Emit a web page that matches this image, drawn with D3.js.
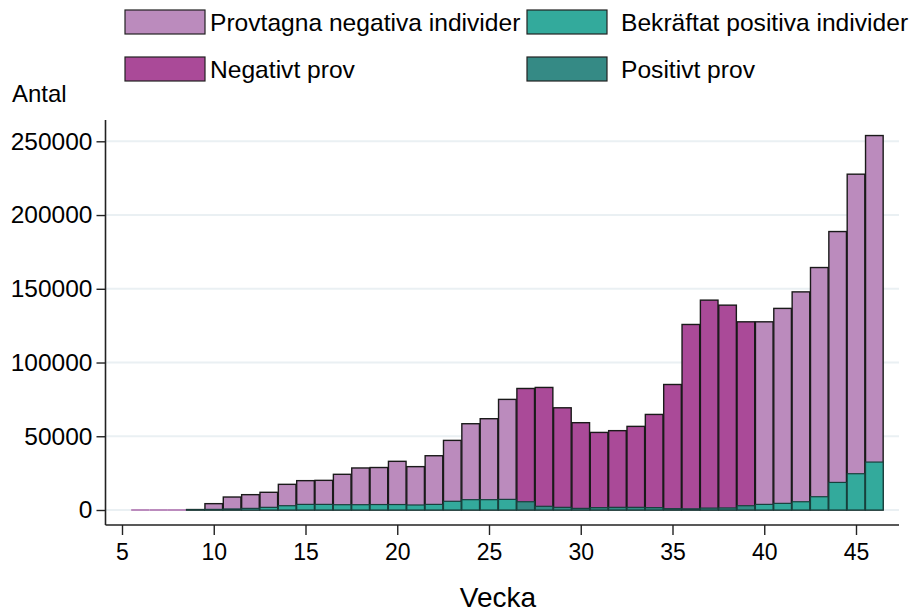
<!DOCTYPE html>
<html>
<head>
<meta charset="utf-8">
<script src="https://cdn.jsdelivr.net/npm/d3@7"></script>
<style>
  html, body { margin: 0; padding: 0; background: #ffffff; }
  svg { display: block; }
  text { font-family: "Liberation Sans", Arial, sans-serif; fill: #000; }
</style>
</head>
<body>
<svg id="chart" width="911" height="612"></svg>
<script>
// ---- data ----
const weeks = [6,7,8,9,10,11,12,13,14,15,16,17,18,19,20,21,22,23,24,25,26,27,28,29,30,31,32,33,34,35,36,37,38,39,40,41,42,43,44,45,46];
// totals tested per week (negative + positive)
const totalTested = [0,0,0,300,4300,8800,10400,12000,17400,19900,20100,24200,28500,28800,33000,29400,36800,47200,58500,61900,75000,82400,83100,69300,59200,52600,53800,56700,64800,85100,125800,142300,138900,127600,127600,136700,147900,164400,188800,227700,253900];
const positives   = [0,0,0,100,400,700,1100,1800,2900,3800,3800,3600,3600,3700,3700,3400,3800,5900,7000,7000,7200,5600,2500,1800,1100,1600,1800,1800,1600,900,800,1300,1400,2900,3800,4500,5600,9000,18700,24600,32500];
// weeks reported as samples ("prov") instead of individuals
const provWeeks = [27,28,29,30,31,32,33,34,35,36,37,38,39];
const yTicks = [0,50000,100000,150000,200000,250000];
const xTicks = [5,10,15,20,25,30,35,40,45];
const legendLabels = ["Provtagna negativa individer","Bekräftat positiva individer","Negativt prov","Positivt prov"];
const colors = {negInd:"#bb8bbd", posInd:"#33aa9c", negProv:"#aa4a98", posProv:"#358a85"};

const rows = weeks.map((w,i)=>({
  week:w, total: totalTested[i], pos: positives[i], neg: totalTested[i]-positives[i],
  prov: provWeeks.includes(w)
}));

const svg = d3.select("#chart");
const x = d3.scaleLinear().domain([5,45]).range([122,856]);
const y = d3.scaleLinear().domain([0,250000]).range([510,141.3]);
const xLeft = 105.5, xRight = 899, yTop = 120, yAxis = 525;
const bw = (x(46)-x(45))*0.96;

// gridlines
svg.append("g").selectAll("line").data(yTicks).join("line")
  .attr("x1", xLeft).attr("x2", xRight)
  .attr("y1", d=>y(d)).attr("y2", d=>y(d))
  .attr("stroke", "#eaf0f3").attr("stroke-width", 2);

// zero-height weeks drawn as a flat line in bar colour
svg.append("g").selectAll("line").data(rows.filter(d=>d.total===0)).join("line")
  .attr("x1", d=>x(d.week)-x(46)/2+x(45)/2).attr("x2", d=>x(d.week)+x(46)/2-x(45)/2)
  .attr("y1", y(0)).attr("y2", y(0))
  .attr("stroke", d=> d.prov ? colors.negProv : colors.negInd).attr("stroke-width", 2);

// total bars (negative stacked above positive)
const barStroke = "#1a1a1a";
svg.append("g").selectAll("rect").data(rows.filter(d=>d.total>0)).join("rect")
  .attr("x", d=>x(d.week)-bw/2).attr("width", bw)
  .attr("y", d=>y(d.total)).attr("height", d=>y(0)-y(d.total))
  .attr("fill", d=> d.prov ? colors.negProv : colors.negInd)
  .attr("stroke", barStroke).attr("stroke-width", 1.4);

// positive bars
svg.append("g").selectAll("rect").data(rows.filter(d=>d.pos>0)).join("rect")
  .attr("x", d=>x(d.week)-bw/2).attr("width", bw)
  .attr("y", d=>y(d.pos)).attr("height", d=>y(0)-y(d.pos))
  .attr("fill", d=> d.prov ? colors.posProv : colors.posInd)
  .attr("stroke", "#17403c").attr("stroke-width", 1.2);

// axes
const yAx = svg.append("g").attr("transform", `translate(${xLeft},0)`)
  .call(d3.axisLeft(y).tickValues(yTicks).tickSize(9).tickPadding(4).tickFormat(d3.format("d")));
const xAx = svg.append("g").attr("transform", `translate(0,${yAxis})`)
  .call(d3.axisBottom(x).tickValues(xTicks).tickSize(10).tickPadding(9).tickFormat(d3.format("d")));
[yAx, xAx].forEach(g=>{
  g.select(".domain").remove();
  g.selectAll(".tick line").attr("stroke","#222").attr("stroke-width",1.4);
  g.selectAll(".tick text").attr("fill","#000")
   .attr("font-family", '"Liberation Sans", Arial, sans-serif');
});
yAx.selectAll(".tick text").attr("font-size", 24.5);
xAx.selectAll(".tick text").attr("font-size", 23);
svg.append("line").attr("x1", xLeft).attr("x2", xLeft).attr("y1", yTop).attr("y2", yAxis)
  .attr("stroke", "#222").attr("stroke-width", 1.6);
svg.append("line").attr("x1", xLeft).attr("x2", xRight).attr("y1", yAxis).attr("y2", yAxis)
  .attr("stroke", "#222").attr("stroke-width", 1.6);

// axis titles
svg.append("text").attr("x", 12).attr("y", 102).attr("font-size", 24).text("Antal");
svg.append("text").attr("x", 498).attr("y", 607).attr("text-anchor","middle").attr("font-size", 28).text("Vecka");

// legend
const legendItems = [
  {label: legendLabels[0], color: colors.negInd, bx:125, by:10, tx:210},
  {label: legendLabels[1], color: colors.posInd, bx:527, by:10, tx:621},
  {label: legendLabels[2], color: colors.negProv, bx:125, by:57, tx:210},
  {label: legendLabels[3], color: colors.posProv, bx:527, by:57, tx:621}
];
const lg = svg.append("g");
lg.selectAll("rect").data(legendItems).join("rect")
  .attr("x", d=>d.bx).attr("y", d=>d.by).attr("width", 80).attr("height", 24)
  .attr("fill", d=>d.color).attr("stroke", "#222").attr("stroke-width", 1.2);
lg.selectAll("text").data(legendItems).join("text")
  .attr("x", d=>d.tx).attr("y", d=>d.by+20.5).attr("font-size", 24.6).text(d=>d.label);
</script>
</body>
</html>
